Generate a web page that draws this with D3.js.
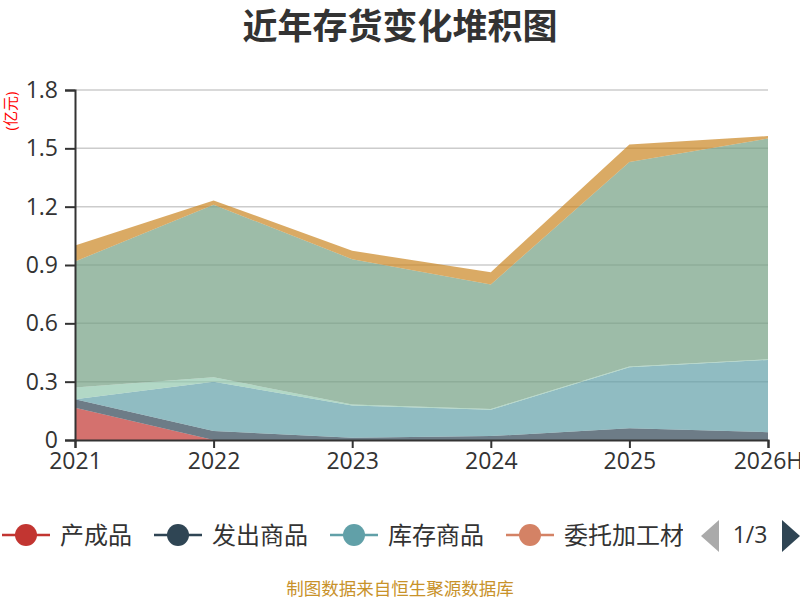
<!DOCTYPE html>
<html>
<head>
<meta charset="utf-8">
<script src="https://cdn.jsdelivr.net/npm/d3@7"></script>
<style>
body{margin:0;background:#fff}
text{font-family:"Open Sans","Noto Sans CJK SC",sans-serif}
</style>
</head>
<body>
<div id="chart"></div>
<script>
var w = 800
var h = 600
var margin = {left:75, right:32, top:90, bottom:160}

// categories and series (bottom to top of the stack), values in 亿元
var years = ["2021","2022","2023","2024","2025","2026H"]
var seriesNames = ["产成品","发出商品","库存商品","委托加工材料","周转材料","原材料","在产品"]
var colors = ["#c23531","#2f4554","#61a0a8","#d48265","#91c7ae","#749f83","#ca8622"]
var chanChengPin = [0.166,0,0,0,0,0]
var faChuShangPin = [0.044,0.046,0.012,0.02,0.06,0.04]
var kuCunShangPin = [0,0.254,0.165,0.135,0.314,0.372]
var weiTuoJiaGong = [0,0,0,0,0,0]
var zhouZhuanCaiLiao = [0.06,0.023,0.005,0.005,0.004,0.003]
var yuanCaiLiao = [0.648,0.887,0.748,0.64,1.052,1.135]
var zaiChanPin = [0.082,0.022,0.043,0.063,0.09,0.013]
var yTicks = [0,0.3,0.6,0.9,1.2,1.5,1.8]

var allSeries = [chanChengPin,faChuShangPin,kuCunShangPin,weiTuoJiaGong,zhouZhuanCaiLiao,yuanCaiLiao,zaiChanPin]

var rows = years.map(function(y,i){
    var r = {year:y}
    seriesNames.forEach(function(n,j){ r[n] = allSeries[j][i] })
    return r
})

var svg = d3.select("#chart").append("svg").attr("width", w).attr("height", h)

var x = d3.scalePoint().domain(years).range([margin.left, w-margin.right])
var y = d3.scaleLinear().domain([0,1.8]).range([h-margin.bottom, margin.top])

// title
svg.append("text")
    .attr("x", w/2).attr("y", 39)
    .attr("text-anchor","middle")
    .attr("font-size", 35).attr("font-weight","bold")
    .attr("fill","#333")
    .text("近年存货变化堆积图")

// grid
svg.append("g")
    .selectAll("line")
    .data(yTicks.slice(1))
    .enter().append("line")
    .attr("x1", margin.left).attr("x2", w-margin.right)
    .attr("y1", function(d){return y(d)}).attr("y2", function(d){return y(d)})
    .attr("stroke","#ccc").attr("stroke-width",1.5)

// stacked areas
var stack = d3.stack().keys(seriesNames)
var layers = stack(rows)
var area = d3.area()
    .x(function(d){return x(d.data.year)})
    .y0(function(d){return y(d[0])})
    .y1(function(d){return y(d[1])})

svg.append("g")
    .selectAll("path")
    .data(layers)
    .enter().append("path")
    .attr("d", area)
    .attr("fill", function(d,i){return colors[i]})
    .attr("fill-opacity", 0.7)

// y axis
var yAxis = d3.axisLeft(y)
    .tickValues(yTicks)
    .tickSize(10)
    .tickPadding(7)
    .tickFormat(function(d){return d===0 ? "0" : d3.format(".1f")(d)})
var gy = svg.append("g").attr("transform","translate("+margin.left+",0)").call(yAxis)
gy.select(".domain").attr("stroke","#333").attr("stroke-width",2)
gy.selectAll(".tick line").attr("stroke","#333").attr("stroke-width",2)
gy.selectAll(".tick text").attr("font-size",23).attr("fill","#333")
    .attr("font-family","'Open Sans',sans-serif")

// x axis
var xAxis = d3.axisBottom(x).tickSize(8).tickPadding(5)
var gx = svg.append("g").attr("transform","translate(0,"+(h-margin.bottom)+")").call(xAxis)
gx.select(".domain").attr("stroke","#333").attr("stroke-width",2)
gx.selectAll(".tick line").attr("stroke","#333").attr("stroke-width",2)
gx.selectAll(".tick text").attr("font-size",23).attr("fill","#333")
    .attr("font-family","'Open Sans',sans-serif")

// unit
svg.append("text")
    .attr("transform","translate(16,111) rotate(-90)")
    .attr("text-anchor","middle")
    .attr("font-size",15).attr("fill","red")
    .text("(亿元)")

// legend, first page only, clipped like the original
svg.append("clipPath").attr("id","legclip")
    .append("rect").attr("x",0).attr("y",505).attr("width",683).attr("height",60)

var legend = svg.append("g").attr("clip-path","url(#legclip)")
var lx = 2
var ly = 535
seriesNames.slice(0,4).forEach(function(n,i){
    var g = legend.append("g").attr("transform","translate("+lx+","+ly+")")
    g.append("line").attr("x1",0).attr("x2",48).attr("y1",0).attr("y2",0)
        .attr("stroke",colors[i]).attr("stroke-width",2.5)
    g.append("circle").attr("cx",24).attr("cy",0).attr("r",11).attr("fill",colors[i])
    var t = g.append("text").attr("x",58).attr("y",8.5)
        .attr("font-size",24).attr("fill","#333")
        .attr("font-family","'Noto Sans CJK SC',sans-serif")
        .text(n)
    lx += 58 + t.node().getComputedTextLength() + 22
})

// pager
svg.append("path")
    .attr("d","M719,520 L701,536 L719,552 Z")
    .attr("fill","#aaa")
svg.append("text")
    .attr("x",750).attr("y",543)
    .attr("text-anchor","middle")
    .attr("font-size",23).attr("fill","#333")
    .text("1/3")
svg.append("path")
    .attr("d","M782,520 L800,536 L782,552 Z")
    .attr("fill","#2f4554")

// source
svg.append("text")
    .attr("x",w/2).attr("y",595)
    .attr("text-anchor","middle")
    .attr("font-size",17.5).attr("fill","#c8922a")
    .attr("font-family","'Noto Sans CJK SC',sans-serif")
    .text("制图数据来自恒生聚源数据库")
</script>
</body>
</html>
